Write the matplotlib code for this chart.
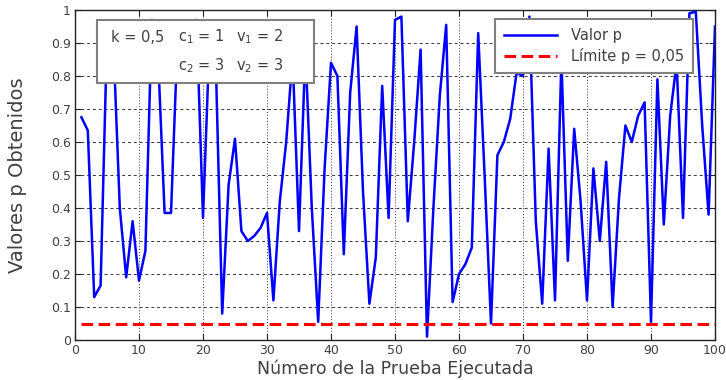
import matplotlib
matplotlib.use("Agg")
import matplotlib.pyplot as plt
import numpy as np
from matplotlib.patches import Rectangle

# p-values, one per run (runs 1..100)
p_values = [
    0.675, 0.635, 0.13, 0.165, 0.92, 0.90, 0.40, 0.19, 0.36, 0.18,
    0.27, 0.97, 0.85, 0.385, 0.385, 0.90, 0.86, 0.93, 0.97, 0.37,
    0.90, 0.84, 0.08, 0.47, 0.61, 0.33, 0.30, 0.315, 0.34, 0.385,
    0.12, 0.42, 0.60, 0.86, 0.33, 0.88, 0.40, 0.055, 0.52, 0.84,
    0.80, 0.26, 0.75, 0.95, 0.45, 0.11, 0.25, 0.77, 0.37, 0.97,
    0.98, 0.36, 0.60, 0.88, 0.01, 0.40, 0.74, 0.955, 0.115, 0.20,
    0.23, 0.28, 0.93, 0.50, 0.05, 0.56, 0.60, 0.67, 0.81, 0.80,
    0.98, 0.36, 0.11, 0.58, 0.12, 0.85, 0.24, 0.64, 0.42, 0.12,
    0.52, 0.30, 0.54, 0.10, 0.43, 0.65, 0.60, 0.68, 0.72, 0.055,
    0.79, 0.35, 0.68, 0.84, 0.37, 0.99, 0.995, 0.65, 0.38, 0.95,
]
runs = np.arange(1, len(p_values) + 1)
limit = 0.05

xticks = list(range(0, 101, 10))
yticks = [i / 10 for i in range(11)]
ytick_labels = ["0", "0.1", "0.2", "0.3", "0.4", "0.5", "0.6", "0.7", "0.8", "0.9", "1"]

text_color = "#404040"

fig = plt.figure(figsize=(7.26, 3.8), dpi=100)
ax = fig.add_axes([75 / 726, 40 / 380, 640 / 726, 330 / 380])

ax.plot(runs, p_values, color="#0000ff", lw=1.8, label="Valor p", zorder=3)
ax.plot([runs[0], runs[-1]], [limit, limit], color="#ff0000", lw=2.2,
        dashes=(3.8, 1.8), label="Límite p = 0,05", zorder=4)

ax.set_xlim(0, 100)
ax.set_ylim(0, 1)
ax.set_xticks(xticks)
ax.set_yticks(yticks)
ax.set_yticklabels(ytick_labels)
ax.tick_params(direction="in", length=4, width=0.8, top=True, right=True,
               labelsize=9, labelcolor=text_color, colors="#222222", pad=3)
for lab in ax.get_xticklabels() + ax.get_yticklabels():
    lab.set_color(text_color)

ax.xaxis.grid(True, color="#333333", lw=0.7, linestyle=(0, (1, 2)))
ax.yaxis.grid(True, color="#333333", lw=0.7, linestyle=(0, (3, 3)))
ax.set_axisbelow(True)
for s in ax.spines.values():
    s.set_color("#222222")
    s.set_linewidth(1.0)

ax.set_xlabel("Número de la Prueba Ejecutada", fontsize=12.5, color=text_color, labelpad=2)
ax.set_ylabel("Valores p Obtenidos", fontsize=14, color=text_color, labelpad=17)

# parameter box (axes fraction coordinates)
bx0, bx1 = (97 - 75) / 640, (314 - 75) / 640
by0, by1 = (340 - 83) / 330, (340 - 20) / 330
ax.add_patch(Rectangle((bx0, by0), bx1 - bx0, by1 - by0, transform=ax.transAxes,
                       facecolor="white", edgecolor="#808080", lw=1.5, zorder=5))
kw = dict(transform=ax.transAxes, fontsize=10.5, color=text_color, va="center", zorder=6)
ax.text((111 - 75) / 640, (340 - 37) / 330, "k = 0,5", **kw)
ax.text((178 - 75) / 640, (340 - 37) / 330, "c$_\\mathregular{1}$ = 1", **kw)
ax.text((236 - 75) / 640, (340 - 37) / 330, "v$_\\mathregular{1}$ = 2", **kw)
ax.text((178 - 75) / 640, (340 - 66) / 330, "c$_\\mathregular{2}$ = 3", **kw)
ax.text((236 - 75) / 640, (340 - 66) / 330, "v$_\\mathregular{2}$ = 3", **kw)

leg = ax.legend(loc="upper right", bbox_to_anchor=((693 - 75) / 640, (340 - 19) / 330),
                fontsize=10.5, frameon=True, fancybox=False, framealpha=1,
                borderpad=0.6, handlelength=3.6, handletextpad=1.0,
                labelspacing=0.35, borderaxespad=0)
leg.get_frame().set_edgecolor("#808080")
leg.get_frame().set_linewidth(1.5)
leg.set_zorder(7)
for t in leg.get_texts():
    t.set_color(text_color)

fig.savefig("out.png", dpi=100, facecolor="white")
